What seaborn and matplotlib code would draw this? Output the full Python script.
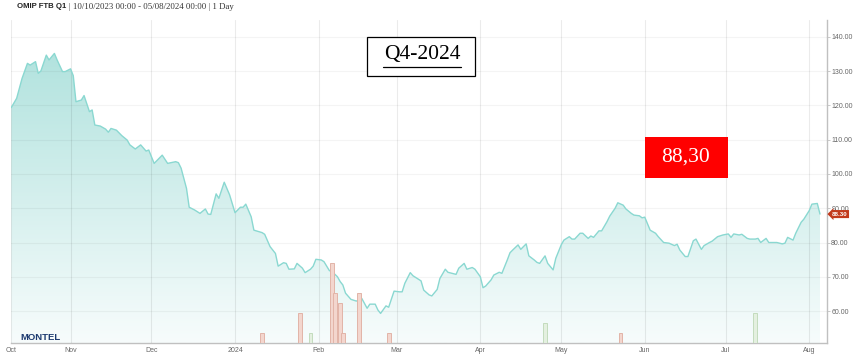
import numpy as np
import pandas as pd
import matplotlib.pyplot as plt
import matplotlib.dates as mdates
from matplotlib.patches import Rectangle
from matplotlib.lines import Line2D
from matplotlib.transforms import blended_transform_factory
import seaborn as sns

# ---- data (OMIP FTB Q1, daily close) ----
dates = [
    "2023-10-10", "2023-10-12", "2023-10-14", "2023-10-16", "2023-10-17", "2023-10-19",
    "2023-10-20", "2023-10-21", "2023-10-23", "2023-10-24", "2023-10-26", "2023-10-27",
    "2023-10-29", "2023-10-30",
    "2023-11-01", "2023-11-02", "2023-11-03", "2023-11-05", "2023-11-06", "2023-11-08",
    "2023-11-09", "2023-11-10", "2023-11-12", "2023-11-14", "2023-11-15", "2023-11-16",
    "2023-11-18", "2023-11-20", "2023-11-22", "2023-11-23", "2023-11-25", "2023-11-27",
    "2023-11-29", "2023-11-30",
    "2023-12-02", "2023-12-05", "2023-12-07", "2023-12-10", "2023-12-11", "2023-12-12",
    "2023-12-14", "2023-12-15", "2023-12-17", "2023-12-19", "2023-12-21", "2023-12-22",
    "2023-12-23", "2023-12-25", "2023-12-26", "2023-12-28", "2023-12-30",
    "2024-01-01", "2024-01-03", "2024-01-04", "2024-01-05", "2024-01-07", "2024-01-08",
    "2024-01-11", "2024-01-12", "2024-01-14", "2024-01-16", "2024-01-17", "2024-01-19",
    "2024-01-20", "2024-01-21", "2024-01-23", "2024-01-24", "2024-01-26", "2024-01-27",
    "2024-01-29", "2024-01-30", "2024-01-31",
    "2024-02-02", "2024-02-03", "2024-02-05", "2024-02-06", "2024-02-08", "2024-02-09",
    "2024-02-10", "2024-02-11", "2024-02-13", "2024-02-15", "2024-02-16", "2024-02-17",
    "2024-02-19", "2024-02-20", "2024-02-22", "2024-02-23", "2024-02-24", "2024-02-26",
    "2024-02-27", "2024-02-29",
    "2024-03-02", "2024-03-03", "2024-03-04", "2024-03-06", "2024-03-07", "2024-03-09",
    "2024-03-10", "2024-03-11", "2024-03-13", "2024-03-14", "2024-03-16", "2024-03-17",
    "2024-03-19", "2024-03-20", "2024-03-23", "2024-03-24", "2024-03-26", "2024-03-27",
    "2024-03-29", "2024-03-30",
    "2024-04-01", "2024-04-02", "2024-04-03", "2024-04-05", "2024-04-06", "2024-04-08",
    "2024-04-09", "2024-04-11", "2024-04-12", "2024-04-13", "2024-04-15", "2024-04-16",
    "2024-04-18", "2024-04-19", "2024-04-21", "2024-04-22", "2024-04-23", "2024-04-25",
    "2024-04-26", "2024-04-28", "2024-04-29",
    "2024-05-01", "2024-05-02", "2024-05-04", "2024-05-05", "2024-05-06", "2024-05-08",
    "2024-05-09", "2024-05-11", "2024-05-12", "2024-05-13", "2024-05-15", "2024-05-16",
    "2024-05-18", "2024-05-19", "2024-05-21", "2024-05-22", "2024-05-24", "2024-05-25",
    "2024-05-27", "2024-05-28", "2024-05-30", "2024-05-31",
    "2024-06-01", "2024-06-03", "2024-06-05", "2024-06-06", "2024-06-08", "2024-06-10",
    "2024-06-12", "2024-06-13", "2024-06-14", "2024-06-16", "2024-06-17", "2024-06-19",
    "2024-06-20", "2024-06-22", "2024-06-23", "2024-06-25", "2024-06-26", "2024-06-28",
    "2024-06-30",
    "2024-07-02", "2024-07-03", "2024-07-04", "2024-07-06", "2024-07-07", "2024-07-09",
    "2024-07-10", "2024-07-12", "2024-07-13", "2024-07-14", "2024-07-16", "2024-07-17",
    "2024-07-19", "2024-07-20", "2024-07-22", "2024-07-23", "2024-07-24", "2024-07-26",
    "2024-07-27", "2024-07-29", "2024-07-30",
    "2024-08-01", "2024-08-02", "2024-08-04", "2024-08-05",
]
prices = [
    119.4, 122.1, 127.9, 132.3, 131.8, 132.8, 129.4, 130.1, 134.7, 133.3, 135.2, 133.3,
    129.9, 129.9,
    130.7, 128.7, 121.1, 121.6, 122.9, 118.2, 118.7, 114.3, 114.0, 113.1, 112.2, 113.3,
    112.8, 111.2, 109.9, 108.5, 107.3, 108.5, 106.7, 107.0,
    103.1, 105.5, 103.1, 103.6, 103.3, 101.7, 95.8, 90.3, 89.5, 88.5, 89.8, 88.3,
    88.2, 94.2, 92.9, 97.6, 93.9,
    88.7, 90.3, 90.3, 91.2, 87.5, 83.6, 82.9, 82.4, 78.8, 76.8, 73.1, 74.1,
    73.9, 72.2, 72.3, 73.9, 72.5, 71.2, 72.2, 73.1, 75.1,
    74.9, 74.4, 71.8, 71.5, 70.0, 68.6, 67.6, 65.2, 63.4, 62.9, 63.2, 63.7,
    60.8, 62.0, 62.0, 60.3, 59.3, 61.5, 61.1, 65.8,
    65.6, 65.6, 68.1, 71.2, 70.3, 69.3, 68.8, 66.1, 64.7, 64.4, 66.3, 69.5,
    72.2, 71.3, 70.7, 72.5, 73.9, 72.2, 72.7, 72.2,
    70.0, 66.8, 67.3, 69.1, 70.5, 71.3, 71.0, 74.9, 77.0, 77.8, 79.3, 78.0,
    79.6, 76.1, 74.9, 74.2, 73.9, 76.1, 73.9, 72.0, 75.4,
    79.3, 80.7, 81.7, 81.0, 81.0, 82.7, 82.7, 81.2, 81.9, 81.5, 83.4, 83.4,
    86.1, 87.7, 90.0, 91.6, 90.9, 89.8, 88.5, 88.0, 87.8, 87.2,
    87.4, 83.6, 82.7, 81.7, 80.0, 79.8, 79.1, 79.5, 77.8, 75.9, 75.9, 80.5,
    81.0, 78.0, 79.1, 80.0, 80.4, 81.7, 82.2,
    82.5, 81.5, 82.5, 82.2, 82.4, 81.2, 81.0, 81.0, 81.2, 80.0, 81.2, 80.0,
    80.0, 80.0, 79.6, 79.8, 81.5, 80.7, 82.7, 85.9, 86.8,
    89.3, 91.2, 91.4, 88.3,
]

vol_dates = ["2024-01-11", "2024-01-25", "2024-01-29", "2024-02-06", "2024-02-07",
             "2024-02-09", "2024-02-10", "2024-02-16", "2024-02-27", "2024-04-25",
             "2024-05-23", "2024-07-12"]
vol_values = [1, 3, 1, 8, 5, 4, 1, 5, 1, 2, 1, 3]
vol_side = ["down", "down", "up", "down", "down", "down", "down", "down", "down",
            "up", "down", "up"]

month_ticks = ["2023-10-10", "2023-11-01", "2023-12-01", "2024-01-01", "2024-02-01",
               "2024-03-01", "2024-04-01", "2024-05-01", "2024-06-01", "2024-07-01",
               "2024-08-01"]
month_labels = ["Oct", "Nov", "Dec", "2024", "Feb", "Mar", "Apr", "May", "Jun", "Jul", "Aug"]
price_ticks = [60, 70, 80, 90, 100, 110, 120, 130, 140]
last_price = 88.30

df = pd.DataFrame({"date": pd.to_datetime(dates), "price": prices})
vol = pd.DataFrame({"date": pd.to_datetime(vol_dates), "volume": vol_values, "side": vol_side})

sns.set_style("white")
plt.rcParams["font.family"] = ["Liberation Sans", "DejaVu Sans"]

fig = plt.figure(figsize=(8.62, 3.59), dpi=100)
ax = fig.add_axes([11 / 862, 16 / 359, 816 / 862, 323 / 359])

ymin, ymax = 50.66, 144.96
x0 = mdates.date2num(df.date.iloc[0]) - 0.1
x1 = mdates.date2num(df.date.iloc[-1]) + 2.6

# gradient area under the line
poly = ax.fill_between(df.date, df.price, ymin, color="none", lw=0)
top = np.array([170, 224, 219]) / 255
bottom = np.array([247, 252, 252]) / 255
t = np.linspace(0, 1, 256).reshape(-1, 1, 1)
img = top + (bottom - top) * t
im = ax.imshow(img, extent=[x0, x1, ymin, ymax], aspect="auto", origin="upper", zorder=1)
im.set_clip_path(poly.get_paths()[0], transform=ax.transData)

sns.lineplot(data=df, x="date", y="price", ax=ax, color="#8ad8d1", lw=1.0, zorder=3)

ax.set_xlim(x0, x1)
ax.set_ylim(ymin, ymax)

# volume bars on a hidden twin axis
ax2 = ax.twinx()
pal = {"down": ("#f3d6ce", "#e2b4a8"), "up": ("#e4f0e0", "#c3dcbd")}
for side, grp in vol.groupby("side"):
    ax2.bar(grp.date, grp.volume, width=1.4, color=pal[side][0],
            edgecolor=pal[side][1], linewidth=0.7, zorder=2)
ax2.set_ylim(0, 32.3)
ax2.set_axis_off()

# axes styling
ax.set_xlabel("")
ax.set_ylabel("")
ax.yaxis.tick_right()
ax.set_yticks(price_ticks)
ax.set_yticklabels([f"{v:.2f}" for v in price_ticks])
ax.set_xticks(pd.to_datetime(month_ticks))
ax.set_xticklabels(month_labels)
ax.tick_params(axis="y", length=2, width=0.6, pad=1, labelsize=5,
               color="#c0c0c0", labelcolor="#666666")
ax.tick_params(axis="x", length=0, pad=3, labelsize=5, labelcolor="#666666")
ax.grid(axis="x", color="black", alpha=0.08, lw=0.8)
ax.grid(axis="y", color="black", alpha=0.045, lw=0.8)
ax.set_axisbelow(False)
for s in ["top", "left"]:
    ax.spines[s].set_visible(False)
for s in ["bottom", "right"]:
    ax.spines[s].set_color("#c0c0c0")
    ax.spines[s].set_linewidth(1.0)

# last price tag
tr = blended_transform_factory(ax.transAxes, ax.transData)
ax.text(1.006, last_price, f"{last_price:.2f}", transform=tr, ha="left", va="center",
        fontsize=4.4, color="white", weight="bold", zorder=6,
        bbox=dict(boxstyle="larrow,pad=0.25", fc="#c23a1c", ec="none"))

# header
fig.text(17 / 862, 1 - 7 / 359, "OMIP FTB Q1", ha="left", va="center",
         fontsize=5.6, weight="bold", color="#222222")
fig.text(69 / 862, 1 - 7 / 359, "| 10/10/2023 00:00 - 05/08/2024 00:00 | 1 Day",
         ha="left", va="center", fontsize=6.3, color="#333333",
         family=["Liberation Serif", "DejaVu Serif"])

# logo
fig.text(20 / 862, (359 - 337) / 359, "MONTEL", ha="left", va="center",
         fontsize=6.8, weight="bold", color="#1c3a70")

# Q4-2024 label box
fig.add_artist(Rectangle((367 / 862, (359 - 76) / 359), 108 / 862, 39 / 359,
                         transform=fig.transFigure, fc="white", ec="black", lw=0.9))
fig.text(422 / 862, (359 - 55) / 359, "Q4-2024", ha="center", va="center",
         fontsize=15.5, color="black", family=["Liberation Serif", "DejaVu Serif"])
fig.add_artist(Line2D([383 / 862, 461 / 862], [(359 - 67) / 359] * 2,
                      transform=fig.transFigure, color="black", lw=0.9))

# red price box
fig.add_artist(Rectangle((645 / 862, (359 - 178) / 359), 83 / 862, 41 / 359,
                         transform=fig.transFigure, fc="#ff0000", ec="none"))
fig.text(686 / 862, (359 - 157) / 359, "88,30", ha="center", va="center",
         fontsize=15.5, color="white", family=["Liberation Serif", "DejaVu Serif"])

fig.savefig("out.png", dpi=100)
